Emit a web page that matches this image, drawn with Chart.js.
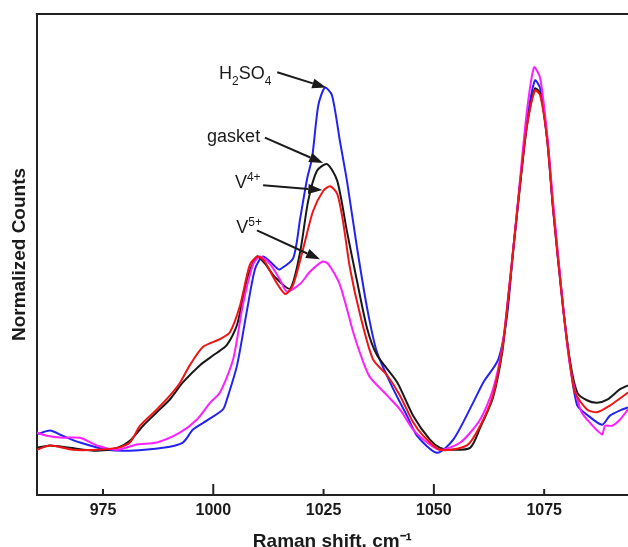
<!DOCTYPE html>
<html>
<head>
<meta charset="utf-8">
<script src="https://cdn.jsdelivr.net/npm/chart.js@4/dist/chart.umd.min.js"></script>
<style>
  html, body { margin: 0; padding: 0; background: #fff; }
</style>
</head>
<body>
<canvas id="ramanChart" width="628" height="547"></canvas>
<script>
// Raman shift (cm-1) and normalized counts
var h2so4X = [960, 963.0, 965.9, 969.8, 975.9, 981.1, 988.6, 993.1, 995.4, 998.6, 1002.2, 1003.1, 1005.4, 1007.7, 1009.5, 1011.3, 1014.5, 1015.1, 1018.1, 1019.7, 1021.3, 1022.4, 1023.8, 1025.3, 1026.9, 1028.7, 1030.3, 1032.6, 1034.9, 1037.1, 1040.8, 1043.9, 1046.2, 1050.7, 1054.4, 1058.9, 1061.2, 1064.6, 1066.6, 1068.0, 1069.6, 1071.1, 1072.9, 1074.1, 1075.7, 1077.0, 1079.3, 1080.9, 1082.5, 1084.7, 1088.1, 1089.9, 1092.2, 1094];
var h2so4Y = [12.6, 13.4, 12.3, 10.9, 9.4, 9.2, 9.8, 10.9, 13.6, 15.5, 17.8, 19.9, 27.0, 38.7, 47.1, 49.6, 47.1, 46.9, 49.2, 57.5, 65.9, 70.1, 81.0, 84.7, 83.1, 73.6, 65.3, 51.3, 38.7, 29.7, 22.0, 16.5, 12.3, 8.8, 11.5, 19.2, 23.4, 28.2, 37.4, 51.3, 65.3, 77.8, 86.2, 84.5, 73.6, 59.6, 38.7, 27.0, 18.6, 16.7, 14.6, 16.5, 17.6, 18.2];

var gasketX = [960, 963.0, 967.5, 973.6, 978.2, 981.1, 984.1, 987.2, 990.2, 993.1, 997.0, 1000.4, 1003.1, 1005.4, 1007.7, 1009.9, 1011.7, 1013.9, 1017.4, 1019.7, 1021.5, 1023.5, 1025.8, 1028.1, 1030.3, 1032.6, 1034.9, 1037.1, 1041.7, 1045.3, 1049.1, 1051.4, 1053.7, 1058.2, 1060.5, 1063.4, 1065.5, 1066.8, 1068.4, 1069.6, 1071.1, 1072.9, 1074.1, 1075.7, 1077.0, 1079.3, 1080.9, 1082.5, 1084.7, 1087.0, 1089.4, 1092.2, 1094];
var gasketY = [9.8, 10.3, 9.8, 9.2, 9.8, 11.3, 14.4, 17.2, 19.9, 23.4, 27.0, 29.3, 31.2, 35.4, 45.0, 49.6, 48.1, 45.4, 42.9, 50.6, 61.1, 67.4, 68.8, 65.3, 54.8, 44.4, 34.5, 29.1, 23.4, 16.5, 11.5, 9.8, 9.4, 9.8, 14.0, 20.3, 29.7, 40.2, 54.4, 64.9, 76.8, 84.5, 83.5, 74.1, 60.0, 39.1, 27.6, 21.3, 19.7, 19.2, 19.9, 22.0, 22.8];

var v4X = [960, 963.0, 968.2, 973.6, 978.2, 981.1, 983.4, 987.2, 990.2, 992.5, 994.7, 997.7, 1001.5, 1003.8, 1006.1, 1008.3, 1010.1, 1011.7, 1013.9, 1016.3, 1018.1, 1020.4, 1022.6, 1024.9, 1026.5, 1028.1, 1029.4, 1031.0, 1033.3, 1036.2, 1039.4, 1042.3, 1045.3, 1047.6, 1051.4, 1057.5, 1060.5, 1063.4, 1065.5, 1066.8, 1068.4, 1069.6, 1071.1, 1072.9, 1074.1, 1075.7, 1077.0, 1079.3, 1080.9, 1082.0, 1084.7, 1087.0, 1089.9, 1094];
var v4Y = [9.4, 10.3, 9.4, 9.4, 9.8, 10.9, 14.4, 17.8, 20.7, 23.4, 27.0, 30.8, 32.4, 33.9, 39.5, 47.9, 49.6, 48.5, 44.8, 41.8, 43.7, 51.3, 59.0, 63.2, 64.2, 62.6, 56.9, 47.1, 37.4, 28.2, 24.9, 20.7, 15.1, 12.3, 9.4, 10.3, 14.4, 20.7, 30.3, 40.8, 54.8, 65.3, 76.8, 84.1, 83.1, 73.6, 59.6, 38.7, 27.0, 21.3, 17.8, 17.2, 18.6, 21.3];

var v5X = [960, 962.3, 965.9, 969.8, 973.6, 978.2, 982.7, 987.2, 992.5, 996.3, 999.3, 1001.5, 1004.5, 1006.7, 1009.0, 1010.6, 1012.8, 1015.1, 1016.7, 1019.7, 1021.9, 1024.7, 1026.0, 1028.7, 1031.7, 1034.0, 1035.5, 1039.4, 1042.3, 1045.3, 1048.5, 1051.4, 1056.0, 1060.5, 1063.4, 1065.5, 1066.8, 1068.4, 1069.6, 1071.1, 1072.7, 1074.1, 1075.7, 1077.0, 1079.3, 1080.9, 1083.2, 1084.7, 1088.1, 1088.8, 1090.4, 1092.2, 1094];
var v5Y = [13.0, 12.3, 11.9, 11.9, 10.3, 9.4, 10.5, 10.9, 13.0, 15.7, 19.2, 21.3, 28.2, 39.5, 47.9, 49.6, 48.1, 44.8, 42.3, 43.9, 46.4, 48.5, 48.1, 43.7, 33.9, 27.6, 24.5, 20.7, 17.8, 13.6, 10.9, 9.4, 10.9, 15.7, 22.0, 30.8, 40.8, 54.8, 66.3, 79.9, 88.9, 86.6, 74.7, 61.1, 39.1, 26.6, 17.8, 15.7, 12.6, 14.4, 14.4, 15.7, 17.8];

var xTicks = [975, 1000, 1025, 1050, 1075];

//colors
var blue = 'rgb(35, 35, 240)';
var red = 'rgb(240, 20, 20)';
var magenta = 'rgb(255, 30, 255)';
var black = 'rgb(25, 25, 25)';
var axisColor = '#222';
var font = "'Liberation Sans', Arial, sans-serif";

function points(xs, ys) {
  return xs.map(function (v, i) { return {x: v, y: ys[i]}; });
}

// labels with arrows, placed in data units (-1 = subscript, 1 = superscript)
var notes = [
  {parts: [['H', 0], ['2', -1], ['SO', 0], ['4', -1]], at: [1001.3, 86.4], from: [1014.5, 87.9], to: [1025.6, 84.7]},
  {parts: [['gasket', 0]], at: [998.6, 73.4], from: [1011.7, 74.3], to: [1024.9, 69.0]},
  {parts: [['V', 0], ['4+', 1]], at: [1004.9, 63.8], from: [1011.3, 64.4], to: [1024.7, 63.4]},
  {parts: [['V', 0], ['5+', 1]], at: [1005.2, 54.4], from: [1009.9, 55.0], to: [1024.2, 49.0]}
];

var framePlugin = {
  id: 'frame',
  afterDraw: function (chart) {
    var ctx = chart.ctx, a = chart.chartArea, x = chart.scales.x, y = chart.scales.y;
    ctx.save();
    ctx.strokeStyle = axisColor;
    ctx.lineWidth = 2;
    ctx.beginPath();
    ctx.moveTo(a.left - 1, a.top);
    ctx.lineTo(a.right, a.top);
    ctx.stroke();
    // inward tick marks
    xTicks.forEach(function (v) {
      var px = x.getPixelForValue(v);
      var len = v % 50 === 0 ? 11 : 6;
      ctx.beginPath();
      ctx.moveTo(px, a.bottom);
      ctx.lineTo(px, a.bottom - len);
      ctx.stroke();
    });
    // annotations
    ctx.fillStyle = '#1a1a1a';
    ctx.textBaseline = 'alphabetic';
    notes.forEach(function (n) {
      var tx = x.getPixelForValue(n.at[0]);
      var ty = y.getPixelForValue(n.at[1]);
      n.parts.forEach(function (p) {
        var small = p[1] !== 0;
        ctx.font = (small ? 12 : 18) + 'px ' + font;
        var dy = p[1] === -1 ? 6 : (p[1] === 1 ? -7 : 0);
        ctx.fillText(p[0], tx, ty + dy);
        tx += ctx.measureText(p[0]).width;
      });
      var x0 = x.getPixelForValue(n.from[0]), y0 = y.getPixelForValue(n.from[1]);
      var x1 = x.getPixelForValue(n.to[0]), y1 = y.getPixelForValue(n.to[1]);
      var ang = Math.atan2(y1 - y0, x1 - x0);
      var head = 14, half = 5;
      var bx = x1 - head * Math.cos(ang), by = y1 - head * Math.sin(ang);
      ctx.strokeStyle = '#1a1a1a';
      ctx.lineWidth = 2;
      ctx.beginPath();
      ctx.moveTo(x0, y0);
      ctx.lineTo(bx, by);
      ctx.stroke();
      ctx.beginPath();
      ctx.moveTo(x1, y1);
      ctx.lineTo(bx + half * Math.sin(ang), by - half * Math.cos(ang));
      ctx.lineTo(bx - half * Math.sin(ang), by + half * Math.cos(ang));
      ctx.closePath();
      ctx.fill();
    });
    ctx.restore();
  }
};

var lineStyle = {borderWidth: 2, pointRadius: 0, tension: 0.25, fill: false};

new Chart(document.getElementById('ramanChart'), {
  type: 'line',
  data: {
    datasets: [
      Object.assign({label: 'V4+', data: points(v4X, v4Y), borderColor: red}, lineStyle),
      Object.assign({label: 'V5+', data: points(v5X, v5Y), borderColor: magenta}, lineStyle),
      Object.assign({label: 'gasket', data: points(gasketX, gasketY), borderColor: black}, lineStyle),
      Object.assign({label: 'H2SO4', data: points(h2so4X, h2so4Y), borderColor: blue}, lineStyle)
    ]
  },
  options: {
    responsive: false,
    animation: false,
    layout: {padding: {top: 14, right: 0, bottom: 0, left: 0}},
    plugins: {legend: {display: false}, tooltip: {enabled: false}},
    scales: {
      x: {
        type: 'linear',
        min: 960,
        max: 1094,
        afterBuildTicks: function (axis) {
          axis.ticks = xTicks.map(function (v) { return {value: v}; });
        },
        grid: {display: false, drawTicks: false},
        border: {display: true, color: axisColor, width: 2},
        ticks: {
          color: '#1a1a1a',
          padding: 6,
          maxRotation: 0,
          font: {family: font, size: 16, weight: 'bold'},
          callback: function (v) { return String(v); }
        },
        title: {
          display: true,
          text: 'Raman shift, cm⁻¹',
          color: '#1a1a1a',
          padding: {top: 4, bottom: -6},
          font: {family: font, size: 19, weight: 'bold'}
        }
      },
      y: {
        min: 0,
        max: 100,
        grid: {display: false, drawTicks: false},
        border: {display: true, color: axisColor, width: 2},
        ticks: {display: false},
        title: {
          display: true,
          text: 'Normalized Counts',
          color: '#1a1a1a',
          padding: {top: 8, bottom: 6},
          font: {family: font, size: 19, weight: 'bold'}
        }
      }
    }
  },
  plugins: [framePlugin]
});
</script>
</body>
</html>
